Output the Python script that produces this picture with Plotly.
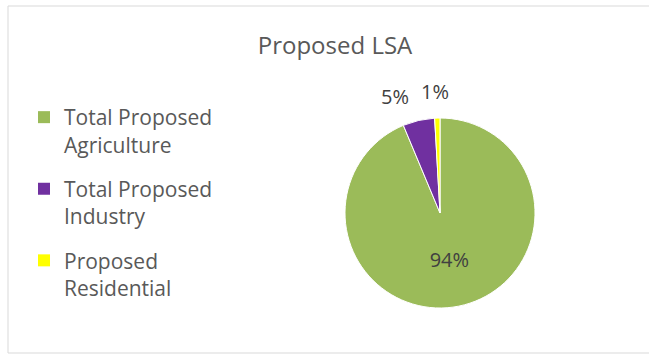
import math
import plotly.graph_objects as go

labels = ["Total Proposed<br>Agriculture", "Total Proposed<br>Industry", "Proposed<br>Residential"]
values = [93.7, 5.4, 0.9]
colors = ["#9BBB59", "#7030A0", "#FFFF00"]
inside_label = [True, False, False]

W, H = 649, 354
cx, cy, r = 440, 213, 95
FONT = "Open Sans"

fig = go.Figure()
fig.add_trace(go.Pie(
    labels=labels,
    values=values,
    marker=dict(colors=colors, line=dict(color="white", width=1)),
    sort=False,
    direction="clockwise",
    rotation=0,
    texttemplate=["%{percent:.0%}" if ins else "" for ins in inside_label],
    textposition=["inside" if ins else "none" for ins in inside_label],
    insidetextorientation="horizontal",
    textfont=dict(family=FONT, size=20, color="#404040"),
    domain=dict(x=[(cx - r) / W, (cx + r) / W], y=[1 - (cy + r) / H, 1 - (cy - r) / H]),
    hoverinfo="label+percent",
    showlegend=False,
))

# legend entries (one group per slice so they can be spaced like the original)
for i, (lab, col) in enumerate(zip(labels, colors)):
    fig.add_trace(go.Scatter(
        x=[None], y=[None], mode="markers", name=lab,
        marker=dict(symbol="square", size=12, color=col),
        legendgroup=f"g{i}", showlegend=True, hoverinfo="skip",
    ))

# outside percentage labels, placed along each slice's mid angle
total = sum(values)
annotations = []
cum = 0.0
for v, ins in zip(values, inside_label):
    mid = math.radians((cum + v / 2) / total * 360)
    cum += v
    if ins:
        continue
    s, c = math.sin(mid), math.cos(mid)
    R = r + 9
    px, py = cx + R * s, cy - R * c
    left = s < -0.1
    annotations.append(dict(
        x=px / W, y=1 - py / H, xref="paper", yref="paper",
        text=f"{round(v / total * 100)}%", showarrow=False,
        xanchor="right" if left else "center", yanchor="bottom",
        xshift=-6 if left else -2, yshift=2 if not left else 0,
        font=dict(family=FONT, size=20, color="#404040"),
    ))

fig.update_layout(
    width=W, height=H,
    margin=dict(l=0, r=0, t=0, b=0),
    paper_bgcolor="white",
    plot_bgcolor="white",
    xaxis=dict(visible=False),
    yaxis=dict(visible=False),
    title=dict(text="Proposed LSA", x=335 / W, xanchor="center", y=1 - 46 / H, yanchor="middle",
               font=dict(family=FONT, size=24, color="#595959")),
    legend=dict(x=24 / W, y=1 - 97 / H, xanchor="left", yanchor="top",
                font=dict(family=FONT, size=21, color="#595959"),
                itemwidth=30, valign="top", tracegroupgap=14, traceorder="grouped",
                bgcolor="rgba(0,0,0,0)"),
    annotations=annotations,
    shapes=[dict(type="rect", xref="paper", yref="paper", x0=8 / W, x1=1.02, y0=1 - 353 / H, y1=1 - 6 / H,
                 line=dict(color="#D9D9D9", width=1), fillcolor="rgba(0,0,0,0)", layer="below")],
)

fig.write_html("out.html")
